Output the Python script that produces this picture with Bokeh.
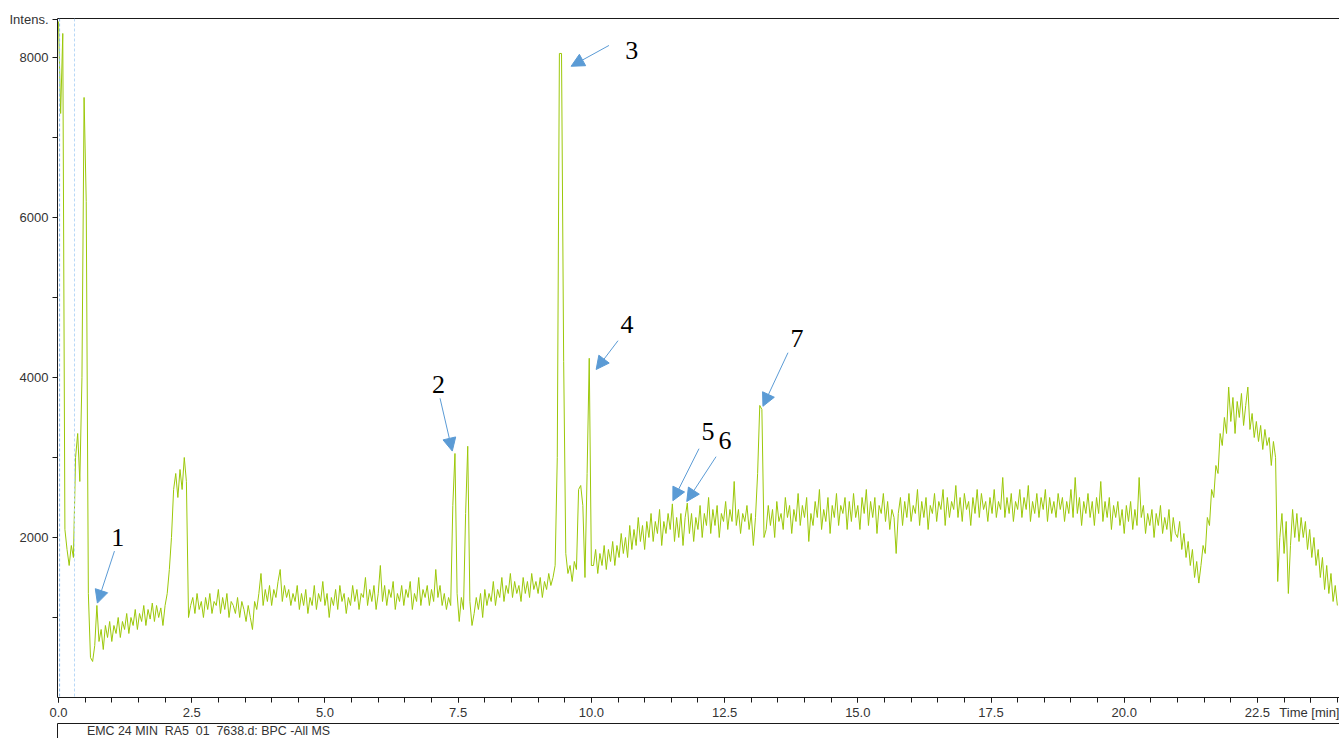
from bokeh.plotting import figure
from bokeh.models import (Range1d, LinearAxis, FixedTicker, PrintfTickFormatter, Span,
                          Arrow, NormalHead, Legend, LegendItem)
from bokeh.layouts import column
from bokeh.core.properties import value
from bokeh.embed import file_html
from bokeh.resources import INLINE

# ---------------- data ----------------
DT = 0.04  # acquisition step of the trace, min

# each segment: (start time in min, intensities sampled every DT)
seg_void = (0.00, [8450, 7300, 8300, 2100, 1850, 1650, 1900, 1750, 3000, 3300, 2700, 4000,
                   7500, 6200, 1300, 500])
seg_recovery = (0.64, [450, 650, 1150, 700, 850, 600, 900, 750, 950, 700,
                       900, 800, 1000, 750, 950, 850, 1050, 800, 1000, 900,
                       1100, 850, 1050, 950, 1150, 900, 1100, 980, 1180, 950,
                       1150, 1000, 1120, 900, 1150, 1300])
seg_bump = (2.08, [1600, 2000, 2600, 2800, 2500, 2850, 2600, 3000, 2700, 1000])
seg_base1 = (2.48, [1150, 1250, 1050, 1300, 1100, 1200, 1000, 1250, 1100, 1300,
                    1050, 1200, 1150, 1350, 1050, 1250, 1100, 1300, 1000, 1200,
                    1150, 1050, 1250, 1000, 1200, 1100, 950, 1150, 1000, 850,
                    1200, 1100, 1300, 1550, 1150, 1350, 1200, 1400, 1150, 1350,
                    1250, 1450, 1600, 1200, 1400, 1250, 1350, 1150, 1300])
seg_base2 = (4.44, [1200, 1400, 1100, 1300, 1150, 1350, 1050, 1250, 1150, 1400,
                    1100, 1300, 1200, 1450, 1150, 1300, 1000, 1250, 1150, 1350,
                    1100, 1400, 1200, 1300, 1050, 1250, 1150, 1400, 1200, 1350,
                    1100, 1300, 1250, 1500, 1150, 1350, 1200, 1400, 1100, 1300,
                    1650, 1200, 1400, 1150, 1350, 1250, 1450, 1100, 1300, 1200,
                    1400, 1150, 1350, 1250, 1450, 1100, 1300, 1200, 1500, 1150,
                    1350, 1250, 1400, 1150, 1350, 1200, 1600, 1250, 1400, 1150,
                    1300, 1100, 1250])
seg_peak2 = (7.36, [1150, 2400, 3050, 1300, 950, 1250, 1100, 2300, 3140, 1200, 900])
seg_base3 = (7.80, [1050, 1250, 1100, 1300, 1000, 1350, 1150, 1300, 1200, 1450,
                    1150, 1350, 1250, 1500, 1200, 1400, 1300, 1550, 1250, 1450,
                    1300, 1400, 1200, 1500, 1300, 1450, 1250, 1550, 1350, 1450,
                    1300, 1500, 1250, 1450, 1350, 1550, 1400, 1500, 1650])
seg_peak3 = (9.36, [3000, 8050, 8050, 4200, 1800, 1550])
seg_peak4 = (9.60, [1650, 1450, 1700, 1600, 2600, 2650, 2400, 1500, 2800, 4240, 1650])
seg_rise = (10.04, [1650, 1850, 1550, 1800, 1650, 1900, 1600, 1850, 1700, 1950,
                    1650, 1900, 1750, 2050, 1800, 2000, 1750, 2150, 1850, 2100,
                    1900, 2250, 1950, 2150, 1850, 2200, 2000, 2300, 1950, 2200,
                    2050, 2350, 1900, 2200, 2050, 2300, 2100, 2420, 1950, 2250,
                    2000, 2300, 1900, 2250, 2430, 2050, 2300, 1950, 2250, 2100,
                    2400, 2000, 2300, 2150, 2500, 2050, 2350, 2150, 2400, 2000,
                    2300, 2200, 2450, 2100, 2350, 2200, 2700, 2150, 2350, 2050,
                    2300, 2200, 2400, 2100, 2300, 1900, 2250])
seg_peak7 = (13.12, [2800, 3650, 3600, 2000])
seg_plateau = (13.28, [2100, 2400, 2150, 2350, 2000, 2450, 2200, 2300, 2100, 2500,
                       2250, 2400, 2050, 2350, 2200, 2550, 2150, 2400, 2250, 2500,
                       1950, 2300, 2150, 2450, 2250, 2600, 2100, 2350, 2200, 2500,
                       2050, 2400, 2250, 2550, 2150, 2400, 2300, 2500, 2100, 2450,
                       2200, 2550, 2250, 2400, 2100, 2500, 2300, 2600, 2150, 2450,
                       2250, 2500, 2050, 2400, 2300, 2550, 2200, 2450, 2100, 2350,
                       2250, 1800, 2300, 2500, 2150, 2450, 2250, 2550, 2200, 2400,
                       2300, 2600, 2150, 2450, 2250, 2500, 2100, 2400, 2300, 2550,
                       2200, 2450, 2350, 2600, 2150, 2500, 2250, 2450, 2350, 2650,
                       2250, 2500, 2200, 2550, 2350, 2450, 2150, 2500, 2300, 2600,
                       2250, 2550, 2350, 2450, 2200, 2500, 2300, 2600, 2250, 2450,
                       2350, 2750, 2250, 2500, 2300, 2550, 2200, 2450, 2350, 2600,
                       2250, 2500, 2350, 2650, 2200, 2450, 2300, 2550, 2250, 2500,
                       2350, 2600, 2200, 2500, 2300, 2450, 2250, 2550, 2350, 2500,
                       2200, 2450, 2300, 2600, 2250, 2750, 2300, 2500, 2150, 2450,
                       2300, 2550, 2250, 2450, 2150, 2500, 2300, 2700, 2200, 2450,
                       2250, 2500, 2100, 2400, 2250, 2450, 2150, 2350, 2050, 2400,
                       2200, 2450, 2100, 2350, 2150, 2750, 2250, 2400, 2050, 2300,
                       2150, 2350, 2000, 2300, 2150, 2400, 2050, 2250, 2100, 2350,
                       1950, 2250, 2050])
seg_late = (21.00, [2000, 2200, 1850, 2050, 1750, 1950, 1650, 1850, 1500, 1700,
                    1430, 1650, 1900, 1800, 2250, 2150, 2600, 2500, 2900, 2800,
                    3300, 3150, 3500, 3300, 3880, 3450, 3750, 3300, 3700, 3500,
                    3800, 3400, 3650, 3880, 3350, 3550, 3250, 3450, 3200, 3400,
                    3100, 3350, 3150, 3250, 2900, 3200, 3000, 1450, 2000, 2300,
                    1800, 2200, 1300, 1900, 2350, 2000, 2300, 1950, 2250, 2000,
                    2200, 1850, 2100, 1750, 2000, 1650, 1850, 1500, 1750, 1350,
                    1650, 1300, 1550, 1200, 1400, 1150])

segments = [seg_void, seg_recovery, seg_bump, seg_base1, seg_base2, seg_peak2, seg_base3,
            seg_peak3, seg_peak4, seg_rise, seg_peak7, seg_plateau, seg_late]

# peak annotations: label, label position, arrow tail, arrow tip (data units)
peak_labels = ["1", "2", "3", "4", "5", "6", "7"]
label_t = [1.11, 7.13, 10.76, 10.67, 12.19, 12.51, 13.86]
label_v = [2000, 3910, 8090, 4660, 3320, 3210, 4490]
tail_t = [1.05, 7.16, 10.33, 10.50, 12.02, 12.34, 13.69]
tail_v = [1830, 3740, 8150, 4460, 3110, 3010, 4310]
tip_t = [0.73, 7.39, 9.62, 10.09, 11.53, 11.79, 13.22]
tip_v = [1180, 3080, 7890, 4100, 2460, 2450, 3640]

x_major_ticks = [0, 2.5, 5, 7.5, 10, 12.5, 15, 17.5, 20, 22.5]
x_minor_ticks = [k * 0.5 for k in range(49)]
y_major_ticks = [2000, 4000, 6000, 8000]
y_minor_ticks = [1000, 3000, 5000, 7000]
x_title, x_title_at = "Time [min]", 23.5
y_title, y_title_at = "Intens.", 8480
marker_lines = [0.02, 0.30]
legend_label = "EMC 24 MIN  RA5  01  7638.d: BPC -All MS"

# ---------------- build trace ----------------
trace_t, trace_v = [], []
for start, vals in segments:
    for k, val in enumerate(vals):
        trace_t.append(round(start + k * DT, 3))
        trace_v.append(val)

TRACE_COLOR = "#9cc80a"
ARROW_COLOR = "#5b9bd5"
TEXT_COLOR = "#333333"
AXIS_COLOR = "#1a1a1a"
SANS = "Liberation Sans"

p = figure(width=1339, height=723, x_range=Range1d(-0.019, 24.04), y_range=Range1d(0, 8487),
           output_backend="svg", toolbar_location=None,
           min_border_left=57, min_border_right=0, min_border_top=18, min_border_bottom=26)
p.outline_line_color = None
p.grid.visible = False

xa = p.xaxis[0]
xa.ticker = FixedTicker(ticks=x_major_ticks + [x_title_at], minor_ticks=x_minor_ticks)
xa.formatter = PrintfTickFormatter(format="%.1f")
xa.major_label_overrides = {x_title_at: x_title}
xa.major_label_standoff = 2

ya = p.yaxis[0]
ya.ticker = FixedTicker(ticks=y_major_ticks + [y_title_at], minor_ticks=y_minor_ticks)
ya.major_label_overrides = {y_title_at: y_title}
ya.major_label_standoff = 4

for ax in (xa, ya):
    ax.axis_line_color = AXIS_COLOR
    ax.major_tick_line_color = AXIS_COLOR
    ax.minor_tick_line_color = AXIS_COLOR
    ax.major_tick_in = 0
    ax.major_tick_out = 5
    ax.minor_tick_in = 0
    ax.minor_tick_out = 5
    ax.major_label_text_font = SANS
    ax.major_label_text_font_size = "13px"
    ax.major_label_text_color = TEXT_COLOR

top_axis = LinearAxis(ticker=FixedTicker(ticks=[]),
                      major_tick_line_color=None, minor_tick_line_color=None,
                      axis_line_color=AXIS_COLOR, major_label_standoff=0)
p.add_layout(top_axis, "above")

for loc, col in zip(marker_lines, ["#86b8ea", "#b9d8f6"]):
    p.add_layout(Span(location=loc, dimension="height", line_color=col,
                      line_dash="3 2", line_width=1))

p.line(trace_t, trace_v, line_color=TRACE_COLOR, line_width=1)

for i in range(len(peak_labels)):
    p.add_layout(Arrow(end=NormalHead(size=13, fill_color=ARROW_COLOR, line_color=ARROW_COLOR),
                       x_start=tail_t[i], y_start=tail_v[i], x_end=tip_t[i], y_end=tip_v[i],
                       line_color=ARROW_COLOR, line_width=1))

p.text(x=label_t, y=label_v, text=peak_labels, text_font=value("Liberation Serif"),
       text_font_size="26px", text_align="center", text_baseline="middle", text_color="black")

# legend strip
p2 = figure(width=1339, height=15, x_range=Range1d(0, 1), y_range=Range1d(0, 1),
            output_backend="svg", toolbar_location=None, x_axis_location=None, y_axis_location=None,
            min_border_left=57, min_border_right=0, min_border_top=0, min_border_bottom=0)
p2.outline_line_color = None
p2.grid.visible = False
r2 = p2.line(x=[], y=[], line_color=TRACE_COLOR, line_width=1)
for side in ("left", "above"):
    p2.add_layout(LinearAxis(ticker=FixedTicker(ticks=[]),
                             major_tick_line_color=None, minor_tick_line_color=None,
                             axis_line_color=AXIS_COLOR, major_label_standoff=0), side)
leg = Legend(items=[LegendItem(label=legend_label, renderers=[r2])], location="top_left",
             margin=1, padding=0, glyph_width=26, glyph_height=11, label_height=11,
             label_standoff=3, spacing=0, border_line_color=None, background_fill_alpha=0,
             label_text_font=SANS, label_text_font_size="12.4px", label_text_color=TEXT_COLOR)
p2.add_layout(leg)

layout = column(p, p2, spacing=0)
open("out.html", "w").write(file_html(layout, INLINE))
